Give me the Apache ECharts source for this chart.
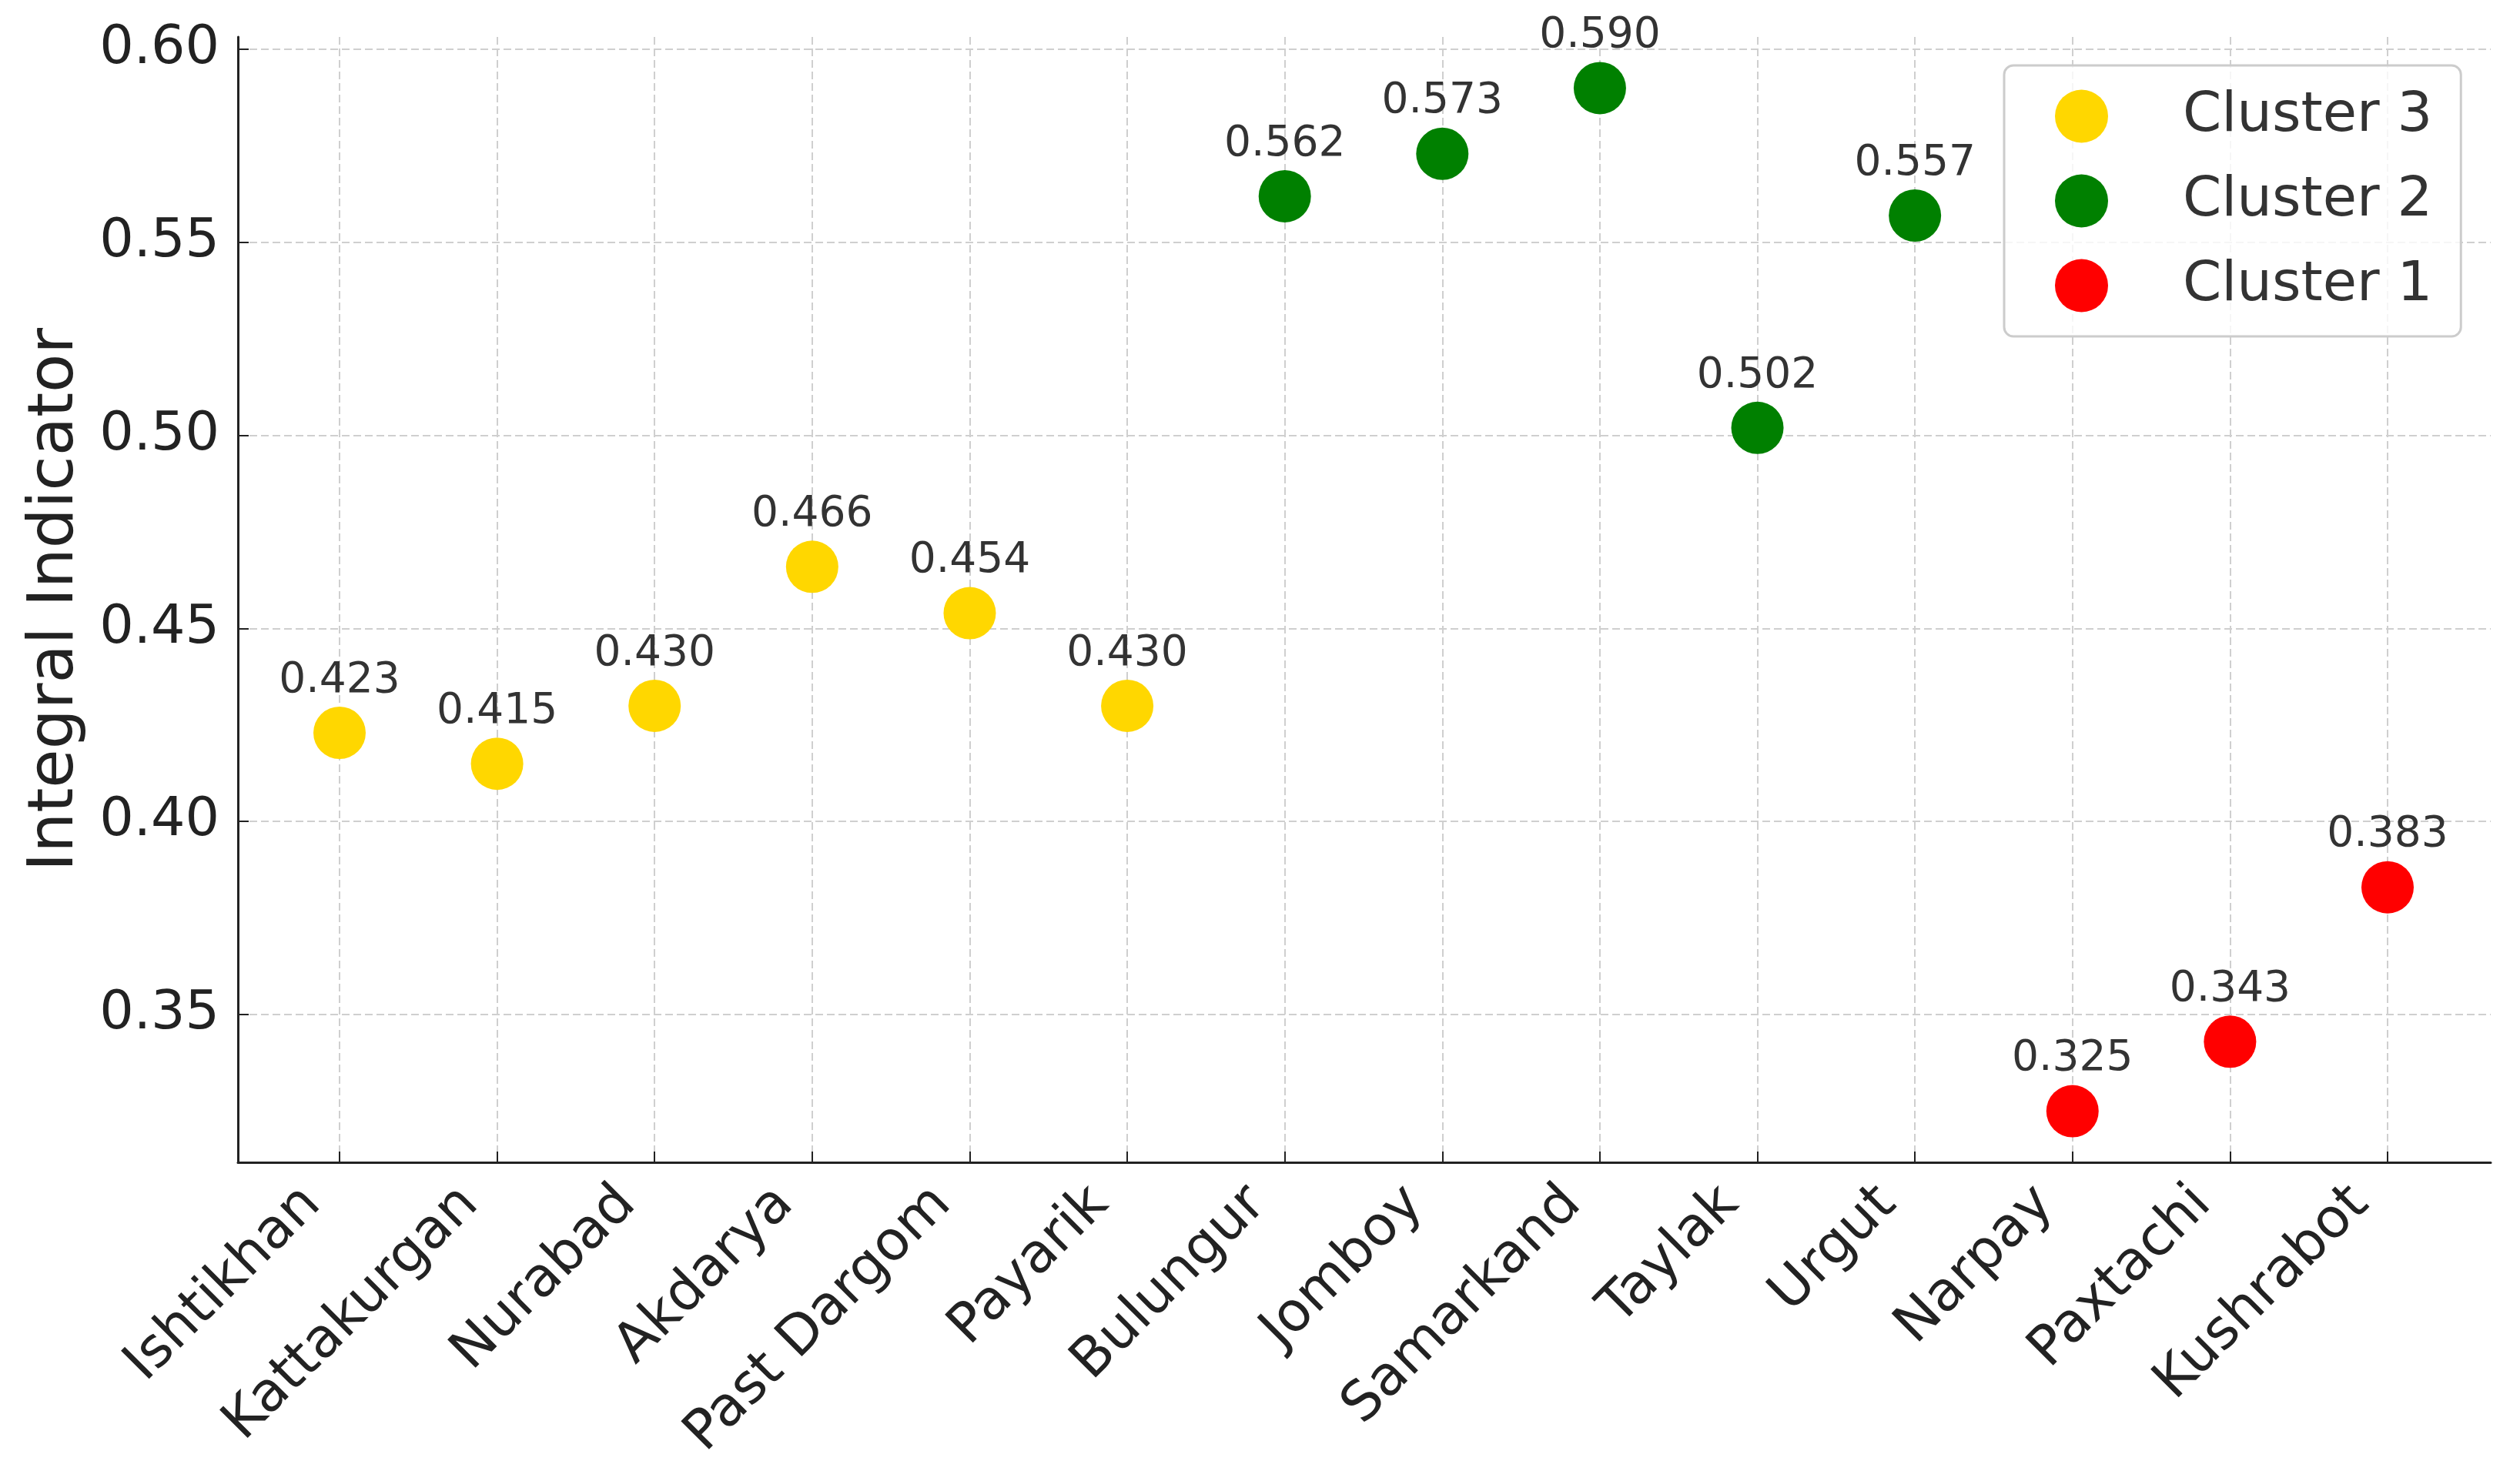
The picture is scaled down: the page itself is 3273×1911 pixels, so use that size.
<!DOCTYPE html>
<html>
<head>
<meta charset="utf-8">
<script src="https://cdn.jsdelivr.net/npm/echarts@6/dist/echarts.min.js"></script>
<style>
  html, body { margin: 0; padding: 0; background: #fff; }
  #chart { width: 3273px; height: 1911px; }
</style>
</head>
<body>
<div id="chart"></div>
<script>
const categories = ['Ishtikhan', 'Kattakurgan', 'Nurabad', 'Akdarya', 'Past Dargom', 'Payarik',
  'Bulungur', 'Jomboy', 'Samarkand', 'Taylak', 'Urgut', 'Narpay', 'Paxtachi', 'Kushrabot'];
const values = [0.423, 0.415, 0.430, 0.466, 0.454, 0.430, 0.562, 0.573, 0.590, 0.502, 0.557, 0.325, 0.343, 0.383];
const clusters = [3, 3, 3, 3, 3, 3, 2, 2, 2, 2, 2, 1, 1, 1];
const clusterNames = ['Cluster 3', 'Cluster 2', 'Cluster 1'];
const clusterIds = [3, 2, 1];
const clusterColors = ['#FFD700', '#008000', '#FF0000'];
const yTicks = [0.35, 0.40, 0.45, 0.50, 0.55, 0.60];
const yMin = 0.31175, yMax = 0.60325;

const FONT = 'DejaVu Sans';
const gridLine = { show: true, lineStyle: { color: '#cfcfcf', width: 2, type: [10, 5] } };

const series = clusterIds.map((cid, k) => ({
  name: clusterNames[k],
  type: 'scatter',
  xAxisIndex: 1,
  yAxisIndex: 1,
  symbol: 'circle',
  symbolSize: 68,
  itemStyle: { color: clusterColors[k], opacity: 1 },
  label: {
    show: true,
    position: 'top',
    distance: 6,
    fontFamily: FONT,
    fontSize: 55,
    color: '#333',
    formatter: p => p.value[1].toFixed(3)
  },
  emphasis: { disabled: true },
  z: 5,
  data: categories.map((c, i) => clusters[i] === cid ? [c, values[i]] : null).filter(d => d)
}));

const chart = echarts.init(document.getElementById('chart'), null, { renderer: 'canvas' });
chart.setOption({
  animation: false,
  backgroundColor: '#fff',
  textStyle: { fontFamily: FONT },
  grid: [
    { left: 309, right: 38, top: 48, bottom: 401 },
    { left: 441, right: 172, top: 48, bottom: 401 },
    { left: 309, right: 38, top: 64, bottom: 593 }
  ],
  legend: {
    data: clusterNames,
    orient: 'vertical',
    left: 2603,
    top: 85,
    icon: 'circle',
    itemWidth: 69,
    itemHeight: 69,
    itemGap: 38,
    padding: [30, 37, 30, 66],
    backgroundColor: 'rgba(255,255,255,0.8)',
    borderColor: '#cccccc',
    borderWidth: 3,
    borderRadius: 12,
    textStyle: { fontFamily: FONT, fontSize: 72, color: '#333', padding: [0, 0, 0, 92] },
    selectedMode: false
  },
  xAxis: [
    {
      gridIndex: 0, type: 'value', min: 0, max: 1,
      axisLine: { show: true, onZero: false, lineStyle: { color: '#222', width: 3 } },
      axisTick: { show: false }, axisLabel: { show: false }, splitLine: { show: false }
    },
    {
      gridIndex: 1, type: 'category', data: categories, boundaryGap: false,
      axisLine: { show: false },
      axisTick: { show: true, inside: true, length: 14, lineStyle: { color: '#222', width: 2 } },
      axisLabel: {
        show: true, rotate: 45, interval: 0, margin: 8,
        padding: [0, 50, 0, 0],
        fontFamily: FONT, fontSize: 71, color: '#222'
      },
      splitLine: gridLine
    },
    {
      gridIndex: 2, type: 'value', min: 0, max: 1, show: false
    }
  ],
  yAxis: [
    {
      gridIndex: 0, type: 'value', min: 0, max: 1,
      axisLine: { show: true, onZero: false, lineStyle: { color: '#222', width: 3 } },
      axisTick: { show: false }, axisLabel: { show: false }, splitLine: { show: false },
      name: 'Integral Indicator', nameLocation: 'middle', nameGap: 195,
      nameTextStyle: { fontFamily: FONT, fontSize: 82, color: '#222' }
    },
    {
      gridIndex: 1, type: 'value', min: yMin, max: yMax, show: false
    },
    {
      gridIndex: 2, type: 'value', min: yTicks[0], max: yTicks[yTicks.length - 1], interval: 0.05,
      axisLine: { show: false },
      axisTick: { show: true, inside: true, length: 14, lineStyle: { color: '#222', width: 2 } },
      axisLabel: {
        show: true, margin: 24, fontFamily: FONT, fontSize: 70, color: '#222',
        formatter: v => v.toFixed(2)
      },
      splitLine: gridLine
    }
  ],
  series: series
});
</script>
</body>
</html>
